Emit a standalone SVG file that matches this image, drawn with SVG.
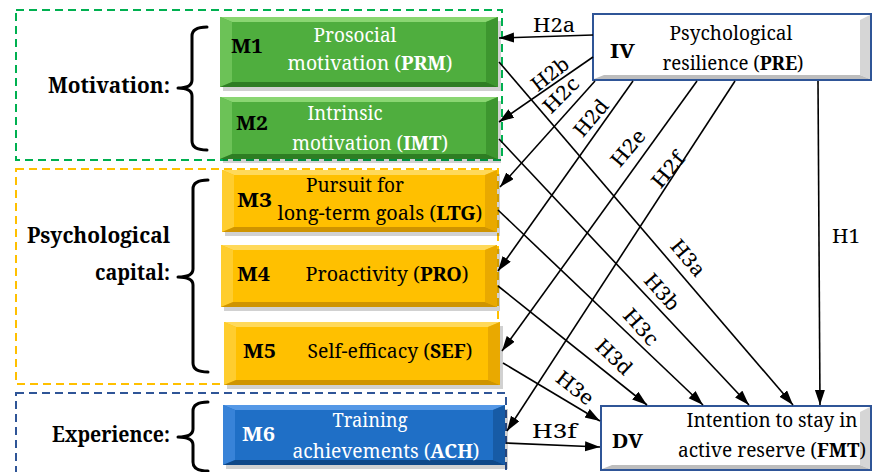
<svg xmlns="http://www.w3.org/2000/svg" width="873" height="472" viewBox="0 0 873 472" font-family="Noto Serif, Liberation Serif, serif">
<style>
.lbl{font-size:20px;fill:#000;}
.cat{font-size:21px;font-weight:bold;fill:#000;}
.bt{font-size:19px;}
.mk{font-size:20px;font-weight:bold;}
.w{fill:#fff;}
.k{fill:#000;}
.grp{fill:none;stroke-width:2;stroke-dasharray:8 5;}
.brace{fill:none;stroke:#000;stroke-width:3;stroke-linecap:round;stroke-linejoin:round;}
.conn line{stroke:#000;stroke-width:1.6;marker-end:url(#ah);}
.shadow{fill:#000;opacity:0.18;}
.gB{fill:#4fae3e}.gT{fill:#8ad672}.gL{fill:#6cc257}.gR{fill:#3d962f}.gD{fill:#2e7d23}
.oB{fill:#ffc000}.oT{fill:#ffd95a}.oL{fill:#ffcd2e}.oR{fill:#e9a900}.oD{fill:#cf9400}
.bB{fill:#1f6fc6}.bT{fill:#5598e6}.bL{fill:#3883d8}.bR{fill:#175ba6}.bD{fill:#0f4888}
.wB{fill:#fff;stroke:#2f5597;stroke-width:2}.wR{fill:#d6d6d6}.wD{fill:#bdbdbd}
</style>
<defs>
<marker id="ah" markerUnits="userSpaceOnUse" markerWidth="16" markerHeight="12" refX="15" refY="5" orient="auto">
<path d="M0,0 L15,5 L0,10 z" fill="#000"/>
</marker>
</defs>

<g id="groups">
<rect class="grp" x="16" y="10" width="486" height="150" stroke="#00b050"/>
<rect class="grp" x="16" y="169" width="482" height="215" stroke="#ffc000"/>
<rect class="grp" x="16" y="393" width="490" height="90" stroke="#2f5597"/>
</g>

<g id="cat-motivation">
<text class="cat" x="48" y="93" textLength="122" lengthAdjust="spacingAndGlyphs">Motivation:</text>
<path class="brace" d="M207,27 Q192,27 192,36 L192,80 Q192,88 178,88 Q192,88 192,96 L192,141 Q192,150 207,150"/>
</g>
<g id="cat-psycap">
<text class="cat" x="27" y="243" textLength="143" lengthAdjust="spacingAndGlyphs">Psychological</text>
<text class="cat" x="95" y="280" textLength="75" lengthAdjust="spacingAndGlyphs">capital:</text>
<path class="brace" d="M208,180 Q193,180 193,189 L193,269 Q193,277 178,277 Q193,277 193,285 L193,363 Q193,372 208,372"/>
</g>
<g id="cat-experience">
<text class="cat" x="52" y="442" textLength="118" lengthAdjust="spacingAndGlyphs">Experience:</text>
<path class="brace" d="M208,402 Q193,402 193,411 L193,429 Q193,437 178,437 Q193,437 193,445 L193,462 Q193,471 208,471"/>
</g>

<g id="M1">
<rect class="shadow" x="223" y="21" width="278" height="70"/>
<rect class="gB" x="220" y="17" width="278" height="70"/>
<polygon class="gT" points="220,17 498,17 486,22 232,22"/>
<polygon class="gL" points="220,17 232,22 232,82 220,87"/>
<polygon class="gR" points="498,17 486,22 486,82 498,87"/>
<polygon class="gD" points="220,87 232,82 486,82 498,87"/>
<text class="mk k" x="231" y="53" textLength="32" lengthAdjust="spacingAndGlyphs">M1</text>
<text class="bt w" x="355" y="42" text-anchor="middle" textLength="83" lengthAdjust="spacingAndGlyphs">Prosocial</text>
<text class="bt w" x="370" y="70" text-anchor="middle" textLength="165" lengthAdjust="spacingAndGlyphs">motivation (<tspan font-weight="bold">PRM</tspan>)</text>
</g>
<g id="M2">
<rect class="shadow" x="223" y="101" width="278" height="62"/>
<rect class="gB" x="220" y="97" width="278" height="62"/>
<polygon class="gT" points="220,97 498,97 486,102 232,102"/>
<polygon class="gL" points="220,97 232,102 232,154 220,159"/>
<polygon class="gR" points="498,97 486,102 486,154 498,159"/>
<polygon class="gD" points="220,159 232,154 486,154 498,159"/>
<text class="mk k" x="236" y="130" textLength="32" lengthAdjust="spacingAndGlyphs">M2</text>
<text class="bt w" x="345" y="120" text-anchor="middle" textLength="75" lengthAdjust="spacingAndGlyphs">Intrinsic</text>
<text class="bt w" x="370" y="150" text-anchor="middle" textLength="156" lengthAdjust="spacingAndGlyphs">motivation (<tspan font-weight="bold">IMT</tspan>)</text>
</g>
<g id="M3">
<rect class="shadow" x="225" y="174" width="275" height="62"/>
<rect class="oB" x="222" y="170" width="275" height="62"/>
<polygon class="oT" points="222,170 497,170 485,175 234,175"/>
<polygon class="oL" points="222,170 234,175 234,227 222,232"/>
<polygon class="oR" points="497,170 485,175 485,227 497,232"/>
<polygon class="oD" points="222,232 234,227 485,227 497,232"/>
<text class="mk k" x="237" y="207" textLength="35" lengthAdjust="spacingAndGlyphs">M3</text>
<text class="bt k" x="355" y="192" text-anchor="middle" textLength="98" lengthAdjust="spacingAndGlyphs">Pursuit for</text>
<text class="bt k" x="380" y="220" text-anchor="middle" textLength="205" lengthAdjust="spacingAndGlyphs">long-term goals (<tspan font-weight="bold">LTG</tspan>)</text>
</g>
<g id="M4">
<rect class="shadow" x="224" y="249" width="276" height="62"/>
<rect class="oB" x="221" y="245" width="276" height="62"/>
<polygon class="oT" points="221,245 497,245 485,250 233,250"/>
<polygon class="oL" points="221,245 233,250 233,302 221,307"/>
<polygon class="oR" points="497,245 485,250 485,302 497,307"/>
<polygon class="oD" points="221,307 233,302 485,302 497,307"/>
<text class="mk k" x="237" y="281" textLength="33" lengthAdjust="spacingAndGlyphs">M4</text>
<text class="bt k" x="387" y="281" text-anchor="middle" textLength="163" lengthAdjust="spacingAndGlyphs">Proactivity (<tspan font-weight="bold">PRO</tspan>)</text>
</g>
<g id="M5">
<rect class="shadow" x="227" y="326" width="276" height="63"/>
<rect class="oB" x="224" y="322" width="276" height="63"/>
<polygon class="oT" points="224,322 500,322 488,327 236,327"/>
<polygon class="oL" points="224,322 236,327 236,380 224,385"/>
<polygon class="oR" points="500,322 488,327 488,380 500,385"/>
<polygon class="oD" points="224,385 236,380 488,380 500,385"/>
<text class="mk k" x="243" y="358" textLength="33" lengthAdjust="spacingAndGlyphs">M5</text>
<text class="bt k" x="390" y="358" text-anchor="middle" textLength="165" lengthAdjust="spacingAndGlyphs">Self-efficacy (<tspan font-weight="bold">SEF</tspan>)</text>
</g>
<g id="M6">
<rect class="shadow" x="226" y="409" width="282" height="60"/>
<rect class="bB" x="223" y="405" width="282" height="60"/>
<polygon class="bT" points="223,405 505,405 493,410 235,410"/>
<polygon class="bL" points="223,405 235,410 235,460 223,465"/>
<polygon class="bR" points="505,405 493,410 493,460 505,465"/>
<polygon class="bD" points="223,465 235,460 493,460 505,465"/>
<text class="mk w" x="242" y="441" textLength="33" lengthAdjust="spacingAndGlyphs">M6</text>
<text class="bt w" x="370" y="427" text-anchor="middle" textLength="75" lengthAdjust="spacingAndGlyphs">Training</text>
<text class="bt w" x="386" y="458" text-anchor="middle" textLength="187" lengthAdjust="spacingAndGlyphs">achievements (<tspan font-weight="bold">ACH</tspan>)</text>
</g>
<g id="IV">
<rect class="wB" x="593" y="14" width="278" height="66"/>
<polygon class="wR" points="870,15 860,20 860,75 870,79"/>
<polygon class="wD" points="594,79 604,75 860,75 870,79"/>
<text class="mk k" x="610" y="58" textLength="25" lengthAdjust="spacingAndGlyphs">IV</text>
<text class="bt k" x="731" y="40" text-anchor="middle" textLength="123" lengthAdjust="spacingAndGlyphs">Psychological</text>
<text class="bt k" x="733" y="70" text-anchor="middle" textLength="141" lengthAdjust="spacingAndGlyphs">resilience (<tspan font-weight="bold">PRE</tspan>)</text>
</g>
<g id="DV">
<rect class="wB" x="601" y="406" width="270" height="64"/>
<polygon class="wR" points="870,407 860,412 860,465 870,469"/>
<polygon class="wD" points="602,469 612,465 860,465 870,469"/>
<text class="mk k" x="612" y="448" textLength="31" lengthAdjust="spacingAndGlyphs">DV</text>
<text class="bt k" x="772" y="427" text-anchor="middle" textLength="171" lengthAdjust="spacingAndGlyphs">Intention to stay in</text>
<text class="bt k" x="772" y="457" text-anchor="middle" textLength="188" lengthAdjust="spacingAndGlyphs">active reserve (<tspan font-weight="bold">FMT</tspan>)</text>
</g>

<g id="connectors" class="conn">
<line x1="593" y1="35" x2="499" y2="38"/>
<line x1="593" y1="57" x2="499" y2="122"/>
<line x1="595" y1="81" x2="500" y2="187"/>
<line x1="633" y1="81" x2="498" y2="271"/>
<line x1="697" y1="81" x2="502" y2="351"/>
<line x1="735" y1="81" x2="507" y2="431"/>
<line x1="818" y1="81" x2="820" y2="405"/>
<line x1="499" y1="62" x2="793" y2="405"/>
<line x1="499" y1="139" x2="749" y2="405"/>
<line x1="498" y1="210" x2="703" y2="405"/>
<line x1="498" y1="286" x2="647" y2="405"/>
<line x1="503" y1="363" x2="600" y2="421"/>
<line x1="506" y1="443" x2="600" y2="447"/>
</g>

<g id="conn-labels">
<text class="lbl" x="533" y="32" textLength="42" lengthAdjust="spacingAndGlyphs">H2a</text>
<text class="lbl" transform="translate(550,74) rotate(-38)" x="0" y="7" text-anchor="middle" textLength="42" lengthAdjust="spacingAndGlyphs">H2b</text>
<text class="lbl" transform="translate(561,95) rotate(-45)" x="0" y="7" text-anchor="middle" textLength="42" lengthAdjust="spacingAndGlyphs">H2c</text>
<text class="lbl" transform="translate(591,118) rotate(-50)" x="0" y="7" text-anchor="middle" textLength="42" lengthAdjust="spacingAndGlyphs">H2d</text>
<text class="lbl" transform="translate(628,148) rotate(-50)" x="0" y="7" text-anchor="middle" textLength="42" lengthAdjust="spacingAndGlyphs">H2e</text>
<text class="lbl" transform="translate(668,170) rotate(-50)" x="0" y="7" text-anchor="middle" textLength="40" lengthAdjust="spacingAndGlyphs">H2f</text>
<text class="lbl" x="832" y="243" textLength="28" lengthAdjust="spacingAndGlyphs">H1</text>
<text class="lbl" transform="translate(688,258) rotate(50)" x="0" y="7" text-anchor="middle" textLength="42" lengthAdjust="spacingAndGlyphs">H3a</text>
<text class="lbl" transform="translate(662,292) rotate(48)" x="0" y="7" text-anchor="middle" textLength="42" lengthAdjust="spacingAndGlyphs">H3b</text>
<text class="lbl" transform="translate(641,327) rotate(48)" x="0" y="7" text-anchor="middle" textLength="42" lengthAdjust="spacingAndGlyphs">H3c</text>
<text class="lbl" transform="translate(614,357) rotate(44)" x="0" y="7" text-anchor="middle" textLength="42" lengthAdjust="spacingAndGlyphs">H3d</text>
<text class="lbl" transform="translate(575,388) rotate(38)" x="0" y="7" text-anchor="middle" textLength="42" lengthAdjust="spacingAndGlyphs">H3e</text>
<text class="lbl" x="532" y="438" textLength="45" lengthAdjust="spacingAndGlyphs">H3f</text>
</g>
</svg>
